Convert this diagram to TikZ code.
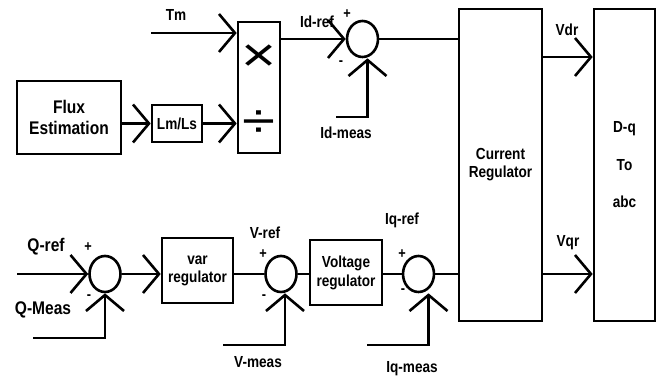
\documentclass[tikz,border=0pt]{standalone}
\usepackage{fontspec}
\setmainfont{Liberation Sans}[FakeStretch=0.85]
\newfontfamily\opfont{Liberation Sans}[FakeStretch=1.25]
\usetikzlibrary{arrows.meta,shapes.geometric}
\begin{document}
\begin{tikzpicture}[x=1pt,y=-1pt,
  blk/.style={draw,line width=2.6pt,inner sep=0pt,align=center,font=\bfseries\fontsize{16}{18}\selectfont},
  sumj/.style={draw,ellipse,line width=2.6pt,minimum width=31pt,minimum height=36pt,inner sep=0pt},
  lbl/.style={inner sep=0pt,font=\bfseries\fontsize{16}{18}\selectfont},
  biglbl/.style={inner sep=0pt,font=\bfseries\fontsize{18.3}{20}\selectfont},
  sgn/.style={inner sep=0pt,font=\bfseries\fontsize{15}{16}\selectfont},
  opsym/.style={inner sep=0pt,font=\opfont\fontsize{48}{48}\selectfont},
  sig/.style={line width=2.6pt,-{Straight Barb[length=16pt,width=38pt]}},
  wire/.style={line width=2.6pt}]
\path[use as bounding box] (0,0) rectangle (662,379);
\path[fill=white,draw=none] (0,0) rectangle (662,379);
% top row
\node[blk,minimum width=104pt,minimum height=73pt,font=\bfseries\fontsize{18.3}{21}\selectfont] (flux) at (69,117.5) {Flux\\Estimation};
\node[blk,minimum width=50pt,minimum height=37pt] (lmls) at (177,123.5) {Lm/Ls};
\node[blk,minimum width=42pt,minimum height=131pt] (muldiv) at (259,87.5) {};
\node[opsym] (mul) at (259,58) {×};
\node[opsym] (dvd) at (259,124) {÷};
\node[sumj] (sumd) at (362.5,39) {};
\node[blk,minimum width=83pt,minimum height=312pt] (curreg) at (500.5,165) {Current\\Regulator};
\node[blk,minimum width=61pt,minimum height=312pt,font=\bfseries\fontsize{16}{37.5}\selectfont] (dq) at (624.5,165) {D-q\\To\\abc};
% bottom row
\node[sumj] (sumq) at (105,274) {};
\node[blk,minimum width=71pt,minimum height=65pt] (varreg) at (197.5,270.5) {var\\regulator};
\node[sumj] (sumv) at (281,274) {};
\node[blk,minimum width=72pt,minimum height=65pt,font=\bfseries\fontsize{16}{19}\selectfont] (voltreg) at (346,272.5) {Voltage\\regulator};
\node[sumj] (sumiq) at (418.5,274) {};
% free ends
\coordinate (tmin) at (151,33);
\coordinate (idmin) at (336,117);
\coordinate (qrefin) at (17,274);
\coordinate (qmin) at (33,338);
\coordinate (vmin) at (223,345);
\coordinate (iqmin) at (367,345);
% connectors
\draw[sig] (tmin) -- (tmin -| muldiv.west);
\draw[sig] (flux.east |- lmls.west) -- (lmls.west);
\draw[sig] (lmls.east) -- (lmls.east -| muldiv.west);
\draw[sig] (muldiv.east |- sumd.west) -- (sumd.west);
\draw[sig] (idmin) -| ([xshift=5pt]sumd.south);
\draw[wire] (sumd.east) -- (sumd.east -| curreg.west);
\draw[sig] ([yshift=108pt]curreg.east) -- ([yshift=108pt]dq.west);
\draw[sig] (qrefin) -- (sumq.west);
\draw[sig] (qmin) -| (sumq.south);
\draw[sig] (sumq.east) -- (sumq.east -| varreg.west);
\draw[wire] (varreg.east |- sumv.west) -- (sumv.west);
\draw[sig] (vmin) -| ([xshift=4pt]sumv.south);
\draw[wire] (sumv.east) -- (sumv.east -| voltreg.west);
\draw[wire] (voltreg.east |- sumiq.west) -- (sumiq.west);
\draw[sig] (iqmin) -| ([xshift=10pt]sumiq.south);
\draw[wire] (sumiq.east) -- (sumiq.east -| curreg.west);
\draw[sig] (curreg.east |- sumiq.east) -- (sumiq.east -| dq.west);
% labels
\node[lbl] (tm) at (176,15) {Tm};
\node[lbl] (idref) at (317,22) {Id-ref};
\node[sgn] (idplus) at (347,14) {+};
\node[sgn] (idminus) at (341,63) {-};
\node[lbl] (idmeas) at (346,133) {Id-meas};
\node[lbl] (vdr) at (567,30) {Vdr};
\node[lbl] (vqr) at (568,243) {Vqr};
\node[biglbl] (qref) at (46,247) {Q-ref};
\node[sgn] (qplus) at (88,247) {+};
\node[sgn] (qminus) at (89,297) {-};
\node[biglbl] (qmeas) at (43,310) {Q-Meas};
\node[lbl] (vref) at (265,233) {V-ref};
\node[sgn] (vplus) at (263,254) {+};
\node[sgn] (vminus) at (264,297) {-};
\node[lbl] (vmeas) at (258,362) {V-meas};
\node[lbl] (iqref) at (402,220) {Iq-ref};
\node[sgn] (iqplus) at (402,254) {+};
\node[sgn] (iqminus) at (403,291) {-};
\node[lbl] (iqmeas) at (412,369) {Iq-meas};
\end{tikzpicture}
\end{document}
